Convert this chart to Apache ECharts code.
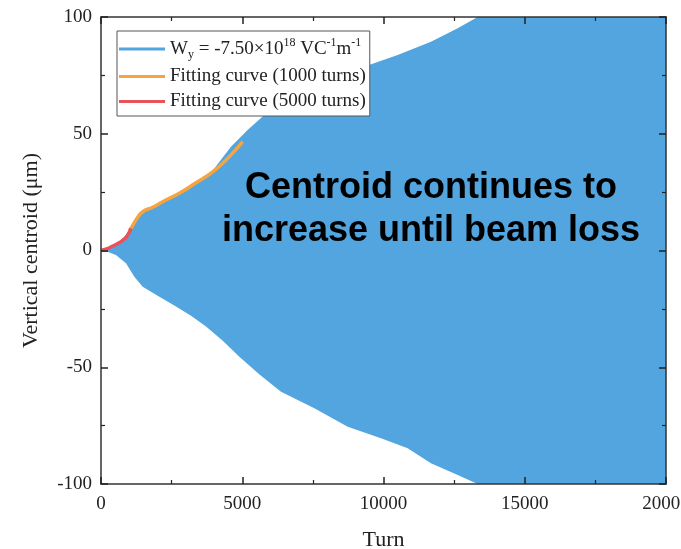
<!DOCTYPE html>
<html>
<head>
<meta charset="utf-8">
<script src="https://cdn.jsdelivr.net/npm/echarts@6/dist/echarts.min.js"></script>
<style>html,body{margin:0;padding:0;background:#fff;}#c{width:681px;height:549px;}</style>
</head>
<body>
<div id="c"></div>
<script>
// Upper envelope of the oscillating centroid (turn, µm)
const upperTurns = [0, 250, 500, 750, 1000, 1240, 1475, 1830, 2180, 2770, 3360, 3950, 4600, 5190, 5780, 6500, 7500, 8500, 9490, 10500, 11680, 12625, 13333, 15000, 20000];
const upperVals  = [0, 0.6, 2.0, 4.5, 8.8, 13.0, 16.4, 18.6, 20.9, 24.8, 29.4, 34.2, 44.4, 51.6, 58.0, 63.0, 69.0, 74.5, 79.4, 83.7, 89.4, 95.2, 100, 108, 130];
// Lower envelope
const lowerTurns = [0, 250, 530, 885, 1180, 1475, 2065, 2655, 3200, 3717, 4300, 4897, 5600, 6372, 7552, 8732, 9912, 10855, 11680, 12626, 13333, 15000, 20000];
const lowerVals  = [0, -0.6, -1.9, -5.5, -11.2, -15.5, -19.8, -24.0, -28.0, -32.6, -38.5, -45.5, -53.0, -60.5, -67.6, -75.5, -80.4, -84.7, -91.1, -96.1, -100, -110, -130];
// Fitting curve (1000 turns)
const fit1000Turns = [1000, 1062, 1239, 1475, 1829, 2183, 2772, 3363, 3953, 4543, 5015];
const fit1000Vals  = [8.6, 9.5, 13.1, 16.6, 18.5, 20.9, 24.5, 29.0, 33.7, 40.2, 46.6];
// Fitting curve (5000 turns)
const fit5000Turns = [0, 60, 250, 414, 560, 708, 830, 944, 1062];
const fit5000Vals  = [0, 0.2, 0.9, 1.9, 2.8, 3.8, 5.0, 6.6, 9.5];

const xTicks = [0, 5000, 10000, 15000, 20000];
const yTicks = [-100, -50, 0, 50, 100];

const pairs = (a, b) => a.map((t, i) => [t, b[i]]);

const BLUE = '#52a5df', ORANGE = '#f7a43e', RED = '#e8535a';
const serif = 'Liberation Serif';
const axisCommon = {
  type: 'value', z: 5,
  axisLine: { show: true, onZero: false, lineStyle: { color: '#333', width: 1.5 } },
  axisTick: { show: true, inside: true, length: 7, lineStyle: { color: '#222', width: 1.5 } },
  minorTick: { show: true, splitNumber: 2, length: 4, lineStyle: { color: '#222', width: 1.2 } },
  splitLine: { show: false }
};

const chart = echarts.init(document.getElementById('c'));
chart.setOption({
  animation: false,
  backgroundColor: '#fff',
  grid: { left: 101, right: 15, top: 17, bottom: 65, containLabel: false, outerBoundsMode: 'none' },
  xAxis: [
    Object.assign({}, axisCommon, {
      min: 0, max: 20000, interval: 5000, position: 'bottom',
      name: 'Turn', nameLocation: 'middle', nameGap: 45,
      nameTextStyle: { fontFamily: serif, fontSize: 22, color: '#222' },
      axisLabel: { fontFamily: serif, fontSize: 19, color: '#222', margin: 11,
        formatter: v => xTicks.includes(v) ? String(v) : '' }
    }),
    Object.assign({}, axisCommon, {
      min: 0, max: 20000, interval: 5000, position: 'top', axisLabel: { show: false }
    })
  ],
  yAxis: [
    Object.assign({}, axisCommon, {
      min: -100, max: 100, interval: 50, position: 'left',
      name: 'Vertical centroid (μm)', nameLocation: 'middle', nameGap: 59,
      nameTextStyle: { fontFamily: serif, fontSize: 22, color: '#222' },
      axisLabel: { fontFamily: serif, fontSize: 19, color: '#222', margin: 9,
        formatter: v => yTicks.includes(v) ? String(v) : '' }
    }),
    Object.assign({}, axisCommon, {
      min: -100, max: 100, interval: 50, position: 'right', axisLabel: { show: false }
    })
  ],
  legend: {
    orient: 'vertical', left: 117, top: 31,
    data: ['Wy', 'Fitting curve (1000 turns)', 'Fitting curve (5000 turns)'],
    icon: 'rect', itemWidth: 46, itemHeight: 3, itemGap: 6,
    padding: [6, 4, 5, 2],
    borderColor: '#555', borderWidth: 1, backgroundColor: '#fff',
    textStyle: {
      fontFamily: serif, fontSize: 19, color: '#222',
      rich: {
        t: { fontFamily: serif, fontSize: 19, color: '#222', lineHeight: 21 },
        t1: { fontFamily: serif, fontSize: 19, color: '#222', lineHeight: 30 },
        sup: { fontFamily: serif, fontSize: 12, color: '#222', lineHeight: 12, verticalAlign: 'middle', padding: [0, 0, 12, 0] },
        sub: { fontFamily: serif, fontSize: 12, color: '#222', lineHeight: 12, verticalAlign: 'middle', padding: [12, 0, 0, 0] }
      }
    },
    formatter: name => name === 'Wy'
      ? '{t1|W}{sub|y}{t1| = -7.50×10}{sup|18}{t1| VC}{sup|-1}{t1|m}{sup|-1}'
      : '{t|' + name + '}'
  },
  graphic: [{
    type: 'text', z: 100,
    style: {
      text: 'Centroid continues to\nincrease until beam loss',
      x: 431, y: 210, align: 'center', verticalAlign: 'middle',
      fontFamily: 'Liberation Sans', fontWeight: 'bold', fontSize: 36, lineHeight: 43,
      fill: '#000'
    }
  }],
  series: [
    { name: 'Wy', type: 'line', data: pairs(upperTurns, upperVals), showSymbol: false,
      lineStyle: { width: 0, color: BLUE }, itemStyle: { color: BLUE },
      areaStyle: { color: BLUE, opacity: 1, origin: -0.6 }, z: 2 },
    { name: 'Wy-lower', type: 'line', data: pairs(lowerTurns, lowerVals), showSymbol: false,
      lineStyle: { width: 0, color: BLUE }, itemStyle: { color: BLUE },
      areaStyle: { color: BLUE, opacity: 1, origin: 0.6 }, z: 2 },
    { name: 'Fitting curve (5000 turns)', type: 'line', data: pairs(fit5000Turns, fit5000Vals),
      showSymbol: false, smooth: true, lineStyle: { width: 3.5, color: RED }, itemStyle: { color: RED }, z: 4 },
    { name: 'Fitting curve (1000 turns)', type: 'line', data: pairs(fit1000Turns, fit1000Vals),
      showSymbol: false, smooth: true, lineStyle: { width: 3.5, color: ORANGE }, itemStyle: { color: ORANGE }, z: 3 }
  ]
});
</script>
</body>
</html>
